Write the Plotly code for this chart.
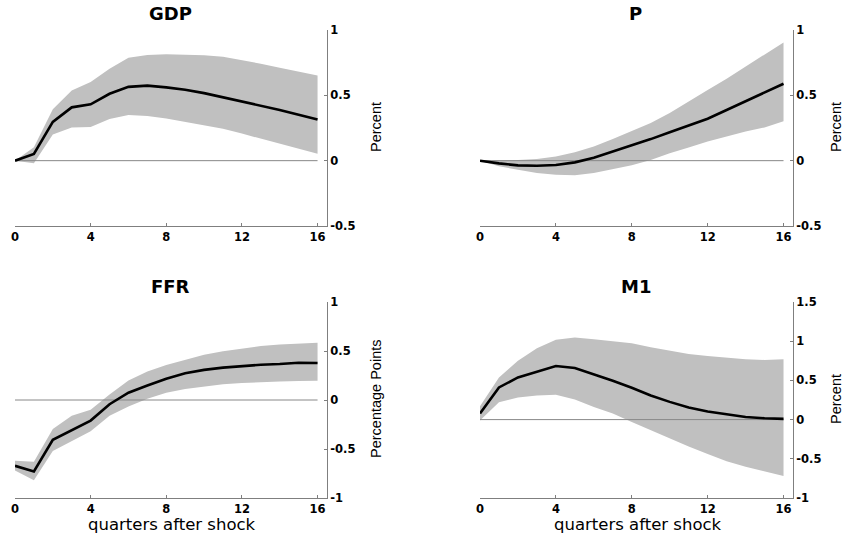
import plotly.graph_objects as go

quarters = list(range(17))

gdp_mid = [0.0, 0.052, 0.297, 0.408, 0.431, 0.512, 0.565, 0.574, 0.561, 0.543, 0.517, 0.486, 0.452, 0.419, 0.388, 0.351, 0.315]
gdp_hi = [0.0, 0.103, 0.393, 0.537, 0.602, 0.703, 0.788, 0.809, 0.814, 0.811, 0.806, 0.796, 0.770, 0.742, 0.711, 0.680, 0.651]
gdp_lo = [0.0, -0.02, 0.200, 0.253, 0.258, 0.318, 0.349, 0.341, 0.323, 0.297, 0.271, 0.245, 0.207, 0.168, 0.134, 0.096, 0.052]

p_mid = [0.0, -0.021, -0.036, -0.039, -0.033, -0.013, 0.023, 0.069, 0.113, 0.165, 0.218, 0.270, 0.321, 0.388, 0.455, 0.521, 0.589]
p_hi = [0.0, 0.0, 0.005, 0.013, 0.031, 0.064, 0.108, 0.165, 0.224, 0.288, 0.365, 0.455, 0.540, 0.627, 0.718, 0.810, 0.905]
p_lo = [0.0, -0.043, -0.069, -0.094, -0.107, -0.112, -0.094, -0.064, -0.036, 0.005, 0.057, 0.100, 0.147, 0.185, 0.224, 0.254, 0.301]

ffr_mid = [-0.672, -0.73, -0.406, -0.307, -0.21, -0.043, 0.074, 0.147, 0.217, 0.273, 0.307, 0.330, 0.347, 0.360, 0.367, 0.380, 0.377]
ffr_hi = [-0.62, -0.63, -0.297, -0.16, -0.10, 0.057, 0.200, 0.290, 0.357, 0.413, 0.463, 0.497, 0.523, 0.550, 0.567, 0.577, 0.584]
ffr_lo = [-0.72, -0.82, -0.52, -0.42, -0.32, -0.16, -0.066, 0.013, 0.073, 0.113, 0.140, 0.160, 0.173, 0.183, 0.190, 0.193, 0.197]

m1_mid = [0.077, 0.41, 0.538, 0.611, 0.684, 0.658, 0.581, 0.496, 0.406, 0.308, 0.226, 0.154, 0.103, 0.064, 0.034, 0.017, 0.009]
m1_hi = [0.171, 0.538, 0.752, 0.910, 1.017, 1.047, 1.026, 0.996, 0.974, 0.923, 0.876, 0.838, 0.812, 0.786, 0.769, 0.761, 0.769]
m1_lo = [-0.01, 0.222, 0.282, 0.308, 0.316, 0.256, 0.162, 0.077, -0.03, -0.137, -0.244, -0.342, -0.44, -0.53, -0.60, -0.66, -0.72]

xticks = [0, 4, 8, 12, 16]
xticktext = ["0", "4", "8", "12", "16"]

W, H = 846, 538


def fx(p):
    return p / W


def fy(p):
    return 1 - p / H


panels = [
    dict(title="GDP", mid=gdp_mid, hi=gdp_hi, lo=gdp_lo, yr=[-0.5, 1],
         yt=[-0.5, 0, 0.5, 1], ytt=["-0.5", "0", "0.5", "1"], ylab="Percent",
         dx=(15, 327), dy=(30, 226), xt=False, labx=376),
    dict(title="P", mid=p_mid, hi=p_hi, lo=p_lo, yr=[-0.5, 1],
         yt=[-0.5, 0, 0.5, 1], ytt=["-0.5", "0", "0.5", "1"], ylab="Percent",
         dx=(480, 793), dy=(30, 226), xt=False, labx=836),
    dict(title="FFR", mid=ffr_mid, hi=ffr_hi, lo=ffr_lo, yr=[-1, 1],
         yt=[-1, -0.5, 0, 0.5, 1], ytt=["-1", "-0.5", "0", "0.5", "1"], ylab="Percentage Points",
         dx=(15, 327), dy=(302, 498), xt=True, labx=376),
    dict(title="M1", mid=m1_mid, hi=m1_hi, lo=m1_lo, yr=[-1, 1.5],
         yt=[-1, -0.5, 0, 0.5, 1, 1.5], ytt=["-1", "-0.5", "0", "0.5", "1", "1.5"], ylab="Percent",
         dx=(480, 793), dy=(302, 498), xt=True, labx=836),
]

fig = go.Figure()
annotations = []
tickfont = dict(family="DejaVu Sans", size=11.5, color="black", weight="bold")
axcol = "#7f7f7f"

for i, p in enumerate(panels, start=1):
    xa = "x" if i == 1 else f"x{i}"
    ya = "y" if i == 1 else f"y{i}"
    fig.add_trace(go.Scatter(x=quarters, y=p["hi"], mode="lines", line=dict(width=0),
                             xaxis=xa, yaxis=ya, showlegend=False, hoverinfo="skip"))
    fig.add_trace(go.Scatter(x=quarters, y=p["lo"], mode="lines", line=dict(width=0),
                             fill="tonexty", fillcolor="#c0c0c0",
                             xaxis=xa, yaxis=ya, showlegend=False, hoverinfo="skip"))
    fig.add_trace(go.Scatter(x=[quarters[0], quarters[-1]], y=[0, 0], mode="lines",
                             line=dict(color="#888888", width=1),
                             xaxis=xa, yaxis=ya, showlegend=False, hoverinfo="skip"))
    fig.add_trace(go.Scatter(x=quarters, y=p["mid"], mode="lines",
                             line=dict(color="black", width=2.6),
                             xaxis=xa, yaxis=ya, showlegend=False))
    xkey = "xaxis" if i == 1 else f"xaxis{i}"
    ykey = "yaxis" if i == 1 else f"yaxis{i}"
    fig.update_layout(**{
        xkey: dict(domain=[fx(p["dx"][0]), fx(p["dx"][1])], range=[0, 16.5],
                   anchor=ya, tickvals=xticks, ticktext=xticktext, ticks="inside",
                   ticklen=3, tickcolor=axcol, showline=True, linecolor=axcol, linewidth=1,
                   showgrid=False, zeroline=False, tickfont=tickfont, automargin=False,
                   fixedrange=True),
        ykey: dict(domain=[fy(p["dy"][1]), fy(p["dy"][0])], range=p["yr"],
                   anchor=xa, side="right", tickvals=p["yt"], ticktext=p["ytt"],
                   ticks="inside", ticklen=3, tickcolor=axcol, showline=True,
                   linecolor=axcol, linewidth=1, showgrid=False, zeroline=False,
                   tickfont=tickfont, automargin=False, fixedrange=True),
    })
    cx = (p["dx"][0] + p["dx"][1]) / 2
    annotations.append(dict(text=f"<b>{p['title']}</b>", x=fx(cx - 1), y=fy(p["dy"][0] - 16),
                            xref="paper", yref="paper", showarrow=False,
                            xanchor="center", yanchor="middle",
                            font=dict(family="DejaVu Sans", size=18, color="black")))
    cy = (p["dy"][0] + p["dy"][1]) / 2
    annotations.append(dict(text=p["ylab"], x=fx(p["labx"]), y=fy(cy - 1),
                            xref="paper", yref="paper", showarrow=False, textangle=-90,
                            xanchor="center", yanchor="middle",
                            font=dict(family="Liberation Sans", size=14.5, color="black")))
    if p["xt"]:
        annotations.append(dict(text="quarters after shock", x=fx(cx + 1), y=fy(524),
                                xref="paper", yref="paper", showarrow=False,
                                xanchor="center", yanchor="middle",
                                font=dict(family="DejaVu Sans", size=16.5, color="black")))

fig.update_layout(width=W, height=H, margin=dict(l=0, r=0, t=0, b=0),
                  paper_bgcolor="white", plot_bgcolor="white",
                  annotations=annotations, showlegend=False)

fig.write_html("out.html")
